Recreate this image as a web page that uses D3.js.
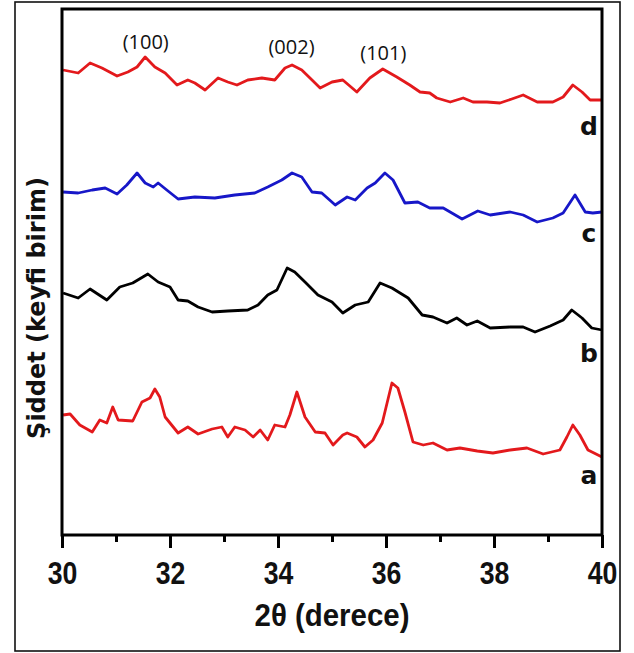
<!DOCTYPE html>
<html>
<head>
<meta charset="utf-8">
<script src="https://cdn.jsdelivr.net/npm/d3@7"></script>
<style>
  html, body { margin: 0; padding: 0; background: #fff; }
  svg { display: block; }
</style>
</head>
<body>
<div id="chart"></div>
<script>
// XRD patterns, 2-theta (degrees) vs intensity (arbitrary units, curves stacked).
var seriesNames = ['a', 'b', 'c', 'd'];
var seriesColors = ['#e3191c', '#000000', '#1717c8', '#e3191c'];

var thetaA = [30.02, 30.15, 30.33, 30.56, 30.70, 30.83, 30.94, 31.04, 31.31, 31.48, 31.63, 31.72, 31.81, 31.91, 32.15, 32.33, 32.52, 32.78, 32.96, 33.07, 33.20, 33.39, 33.54, 33.67, 33.81, 33.94, 34.13, 34.22, 34.35, 34.50, 34.69, 34.87, 35.02, 35.20, 35.28, 35.46, 35.61, 35.76, 35.93, 36.02, 36.11, 36.22, 36.35, 36.50, 36.69, 36.87, 37.13, 37.37, 37.69, 37.98, 38.30, 38.61, 38.91, 39.22, 39.35, 39.46, 39.59, 39.74, 40.00];
var intensityA = [120, 121, 110, 103, 115, 112, 128, 115, 114, 133, 137, 146, 138, 118, 102, 108, 101, 106, 108, 98, 108, 105, 98, 105, 95, 110, 108, 120, 143, 118, 103, 102, 90, 100, 102, 98, 88, 95, 112, 132, 152, 147, 123, 93, 90, 92, 85, 87, 84, 82, 85, 87, 81, 85, 98, 110, 100, 85, 78];

var thetaB = [30.02, 30.30, 30.52, 30.83, 31.07, 31.31, 31.59, 31.78, 32.00, 32.15, 32.33, 32.52, 32.78, 33.07, 33.44, 33.63, 33.81, 33.98, 34.17, 34.31, 34.50, 34.74, 35.00, 35.20, 35.43, 35.67, 35.89, 36.11, 36.41, 36.67, 36.87, 37.13, 37.31, 37.50, 37.69, 37.93, 38.30, 38.54, 38.76, 39.04, 39.28, 39.44, 39.63, 39.81, 40.00];
var intensityB = [242, 237, 246, 235, 248, 252, 261, 253, 248, 235, 234, 228, 223, 224, 225, 230, 240, 245, 267, 263, 253, 240, 233, 222, 230, 233, 252, 247, 237, 220, 218, 212, 217, 210, 214, 207, 208, 208, 203, 209, 215, 225, 217, 207, 205];

var thetaC = [30.02, 30.30, 30.56, 30.80, 31.02, 31.20, 31.39, 31.54, 31.69, 31.78, 31.94, 32.15, 32.46, 32.83, 33.20, 33.57, 33.81, 34.07, 34.26, 34.44, 34.63, 34.81, 35.06, 35.28, 35.43, 35.65, 35.80, 35.98, 36.13, 36.35, 36.59, 36.81, 37.06, 37.41, 37.70, 37.93, 38.30, 38.54, 38.80, 39.09, 39.28, 39.50, 39.69, 39.83, 40.00];
var intensityC = [343, 342, 345, 347, 341, 350, 362, 352, 348, 352, 345, 336, 338, 337, 340, 342, 348, 355, 362, 358, 343, 342, 330, 338, 335, 347, 352, 362, 355, 332, 333, 327, 327, 316, 324, 320, 323, 320, 313, 317, 322, 340, 323, 322, 323];

var thetaD = [30.02, 30.30, 30.52, 30.74, 31.02, 31.22, 31.39, 31.54, 31.72, 31.91, 32.13, 32.33, 32.46, 32.65, 32.89, 33.07, 33.24, 33.44, 33.70, 33.94, 34.13, 34.26, 34.44, 34.63, 34.78, 35.00, 35.20, 35.46, 35.70, 35.94, 36.20, 36.44, 36.63, 36.81, 36.94, 37.19, 37.43, 37.61, 37.87, 38.11, 38.33, 38.54, 38.80, 39.09, 39.28, 39.46, 39.63, 39.78, 40.00];
var intensityD = [465, 462, 472, 467, 459, 463, 468, 478, 468, 462, 450, 455, 452, 445, 457, 453, 450, 455, 457, 455, 467, 470, 465, 455, 447, 453, 455, 443, 457, 466, 458, 450, 443, 442, 437, 433, 437, 433, 433, 432, 436, 440, 433, 433, 438, 450, 443, 435, 435];

var peakLabels = ['(100)', '(002)', '(101)'];
var peakTheta = [31.55, 34.25, 35.95];

var xTicks = [30, 31, 32, 33, 34, 35, 36, 37, 38, 39, 40];
var xTickLabels = ['30', '', '32', '', '34', '', '36', '', '38', '', '40'];

var thetaList = [thetaA, thetaB, thetaC, thetaD];
var intensityList = [intensityA, intensityB, intensityC, intensityD];

var width = 634, height = 653;
var plot = { left: 62, right: 602, top: 9, bottom: 535 };

var svg = d3.select('#chart').append('svg')
    .attr('width', width)
    .attr('height', height);

// Outer figure frame.
svg.append('rect')
    .attr('x', 15).attr('y', 2)
    .attr('width', 605).attr('height', 649)
    .attr('fill', 'none')
    .attr('stroke', '#111')
    .attr('stroke-width', 1.6);

var x = d3.scaleLinear().domain([30, 40]).range([plot.left, plot.right]);
var y = d3.scaleLinear().domain([0, 526]).range([plot.bottom, plot.top]);

var line = d3.line()
    .x(d => x(d[0]))
    .y(d => y(d[1]));

// Curves.
for (var i = 0; i < seriesNames.length; i++) {
    var pts = d3.zip(thetaList[i], intensityList[i]);
    svg.append('path')
        .datum(pts)
        .attr('d', line)
        .attr('fill', 'none')
        .attr('stroke', seriesColors[i])
        .attr('stroke-width', 2.8)
        .attr('stroke-linejoin', 'round');
}

// Plot box.
svg.append('rect')
    .attr('x', plot.left).attr('y', plot.top)
    .attr('width', plot.right - plot.left)
    .attr('height', plot.bottom - plot.top)
    .attr('fill', 'none')
    .attr('stroke', '#000')
    .attr('stroke-width', 3);

// X axis ticks (major even, minor odd).
var xAxis = d3.axisBottom(x)
    .tickValues(xTicks)
    .tickSize(0)
    .tickFormat((d, i) => xTickLabels[i]);

var gx = svg.append('g')
    .attr('transform', 'translate(0,' + plot.bottom + ')')
    .call(xAxis);
gx.select('.domain').remove();
gx.selectAll('.tick line')
    .attr('y2', (d, i) => xTickLabels[i] ? 13 : 7)
    .attr('stroke', '#000')
    .attr('stroke-width', 3);
gx.selectAll('.tick text')
    .attr('y', 0)
    .attr('dy', 49)
    .attr('transform', 'scale(0.86,1)')
    .attr('fill', '#111')
    .style('font-family', '"Liberation Sans", Arial, sans-serif')
    .style('font-weight', 'bold')
    .style('font-size', '31px');

// Axis titles.
svg.append('text')
    .attr('transform', 'translate(332,626) scale(0.92,1)')
    .attr('text-anchor', 'middle')
    .style('font-family', '"Liberation Sans", Arial, sans-serif')
    .style('font-weight', 'bold')
    .style('font-size', '32px')
    .attr('fill', '#111')
    .text('2θ (derece)');

svg.append('text')
    .attr('transform', 'translate(45,308) rotate(-90)')
    .attr('text-anchor', 'middle')
    .style('font-family', '"DejaVu Sans", "Open Sans", sans-serif')
    .style('font-weight', 'bold')
    .style('font-size', '24px')
    .attr('fill', '#111')
    .text('Şiddet (keyfi birim)');

// Series letters.
var letterY = [484, 362, 242, 135];
svg.selectAll('.series-label')
    .data(seriesNames)
    .enter().append('text')
    .attr('class', 'series-label')
    .attr('x', 589)
    .attr('y', (d, i) => letterY[i])
    .attr('text-anchor', 'middle')
    .style('font-family', '"DejaVu Sans", "Open Sans", sans-serif')
    .style('font-weight', 'bold')
    .style('font-size', '25px')
    .attr('fill', '#111')
    .text(d => d);

// Peak indices.
var peakY = [49, 54, 60];
svg.selectAll('.peak-label')
    .data(peakLabels)
    .enter().append('text')
    .attr('class', 'peak-label')
    .attr('x', (d, i) => x(peakTheta[i]))
    .attr('y', (d, i) => peakY[i])
    .attr('text-anchor', 'middle')
    .style('font-family', '"Open Sans", "Noto Sans", sans-serif')
    .style('font-size', '20px')
    .attr('fill', '#111')
    .text(d => d);
</script>
</body>
</html>
